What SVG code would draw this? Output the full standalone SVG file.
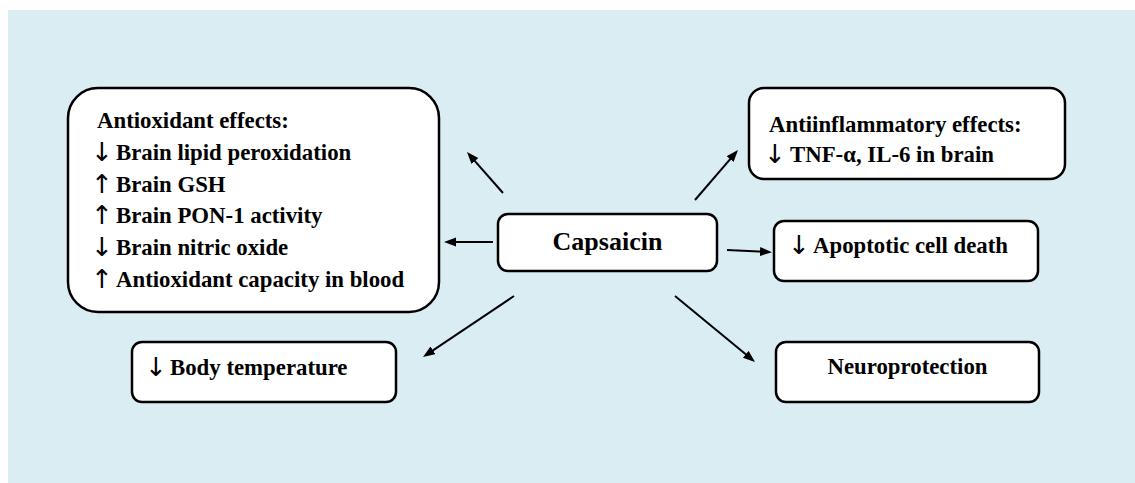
<svg xmlns="http://www.w3.org/2000/svg" width="1135" height="483" viewBox="0 0 1135 483">
<style>
.box{fill:#ffffff;stroke:#000000;stroke-width:2.5}
.t{font-family:"Liberation Serif","Times New Roman",serif;font-weight:bold;font-size:22.8px;fill:#000000}
.ar{font-family:"DejaVu Sans",sans-serif;font-weight:normal;font-size:26px}
.conn line{stroke:#000000;stroke-width:2}
</style>
<defs>
<marker id="ah" markerUnits="userSpaceOnUse" markerWidth="13" markerHeight="10" refX="9" refY="4.5" orient="auto">
<path d="M0,0 L12,4.5 L0,9 z" fill="#000000"/>
</marker>
</defs>
<rect x="8" y="10" width="1127" height="473" fill="#daedf3"/>
<g id="antioxidant">
<rect class="box" x="68" y="88" width="371" height="224" rx="30" ry="30"/>
<text class="t" x="97" y="128">Antioxidant effects:</text>
<text class="t" y="160"><tspan class="ar" x="91" y="161">↓</tspan><tspan x="116" y="160">Brain lipid peroxidation</tspan></text>
<text class="t" y="192"><tspan class="ar" x="91" y="193">↑</tspan><tspan x="116" y="192">Brain GSH</tspan></text>
<text class="t" y="223"><tspan class="ar" x="91" y="224">↑</tspan><tspan x="116" y="223">Brain PON-1 activity</tspan></text>
<text class="t" y="255"><tspan class="ar" x="91" y="256">↓</tspan><tspan x="116" y="255">Brain nitric oxide</tspan></text>
<text class="t" y="287"><tspan class="ar" x="91" y="288">↑</tspan><tspan x="116" y="287">Antioxidant capacity in blood</tspan></text>
</g>
<g id="capsaicin">
<rect class="box" x="498" y="214" width="219" height="57" rx="10" ry="10"/>
<text class="t" x="607.5" y="250" text-anchor="middle" style="font-size:26px">Capsaicin</text>
</g>
<g id="antiinflammatory">
<rect class="box" x="749" y="88" width="316" height="91" rx="15" ry="15"/>
<text class="t" x="769" y="132">Antiinflammatory effects:</text>
<text class="t" y="162"><tspan class="ar" x="764" y="163">↓</tspan><tspan x="790" y="162">TNF-α, IL-6 in brain</tspan></text>
</g>
<g id="apoptotic">
<rect class="box" x="774" y="221" width="264" height="60" rx="10" ry="10"/>
<text class="t" y="253"><tspan class="ar" x="788" y="254">↓</tspan><tspan x="813" y="253">Apoptotic cell death</tspan></text>
</g>
<g id="body-temperature">
<rect class="box" x="132" y="342" width="264" height="60" rx="10" ry="10"/>
<text class="t" y="375"><tspan class="ar" x="145" y="376">↓</tspan><tspan x="170" y="375">Body temperature</tspan></text>
</g>
<g id="neuroprotection">
<rect class="box" x="776" y="342" width="263" height="60" rx="10" ry="10"/>
<text class="t" x="907.5" y="374" text-anchor="middle">Neuroprotection</text>
</g>
<g id="connectors" class="conn">
<line x1="503" y1="193" x2="469" y2="154.3" marker-end="url(#ah)"/>
<line x1="493" y1="242" x2="447" y2="242" marker-end="url(#ah)"/>
<line x1="695" y1="200" x2="736" y2="152.3" marker-end="url(#ah)"/>
<line x1="727" y1="250" x2="769" y2="252" marker-end="url(#ah)"/>
<line x1="514" y1="296" x2="425.5" y2="355.3" marker-end="url(#ah)"/>
<line x1="675" y1="296" x2="752.7" y2="360.1" marker-end="url(#ah)"/>
</g>
</svg>
